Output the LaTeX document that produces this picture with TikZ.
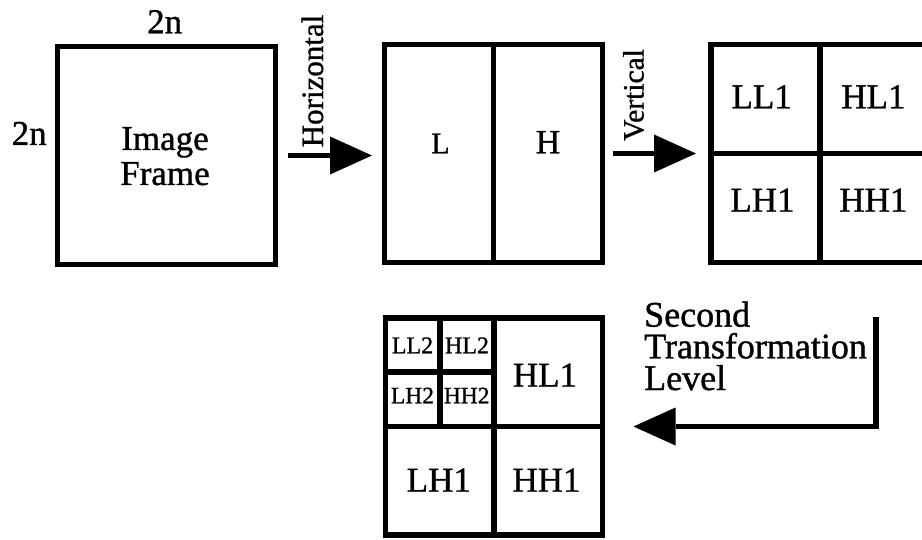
\documentclass[tikz,border=0pt]{standalone}
\usepackage{fontspec}
\setmainfont{Liberation Serif}[FakeBold=1]
\usetikzlibrary{arrows.meta,calc}
\begin{document}
\begin{tikzpicture}[x=1pt,y=-1pt,
  frame/.style={draw, line width=5.5pt, inner sep=0pt, outer sep=0pt,
                minimum width=218pt, minimum height=218pt},
  divider/.style={line width=5.5pt},
  flow/.style={line width=5.5pt, -{Triangle[length=42pt,width=38pt,line width=0pt]}},
  lbl/.style={inner sep=0pt, anchor=base},
  fs/.style={font=\fontsize{#1}{#1}\selectfont}
]
\useasboundingbox (0,0) rectangle (922,540);
\clip (0,0) rectangle (922,540);
\fill[white] (0,0) rectangle (922,540);

% original frame
\node[frame] (img) at (166.5,155.5) {};
\node[lbl, fs=35] (imgA) at (165,150) {Image};
\node[lbl, fs=35] (imgB) at (165,185) {Frame};
\node[lbl, fs=35] (dimW) at (164.7,33.3) {2n};
\node[lbl, fs=35] (dimH) at (29.2,145) {2n};

% after the horizontal pass
\node[frame] (hor) at (493.5,153.5) {};
\draw[divider] (hor.north) -- (hor.south);
\node[lbl, fs=30] (hL) at (440.5,153.3) {L};
\node[lbl, fs=34] (hH) at (548,153.3) {H};

% after the vertical pass
\node[frame] (ver) at (820,153.5) {};
\draw[divider] (ver.north) -- (ver.south);
\draw[divider] (ver.west) -- (ver.east);
\node[lbl, fs=35] (vLL) at (761.7,108.3) {LL1};
\node[lbl, fs=35] (vHL) at (873.4,108.3) {HL1};
\node[lbl, fs=35] (vLH) at (762.5,211.7) {LH1};
\node[lbl, fs=35] (vHH) at (873.4,211.7) {HH1};

% second decomposition level
\node[frame, minimum width=217pt, minimum height=217pt] (low) at (494,426.5) {};
\draw[divider] (low.north) -- (low.south);
\draw[divider] (low.west) -- (low.east);
\draw[divider] ($(low.north west)!0.5!(low.north)$) -- ($(low.west)!0.5!(low.center)$);
\draw[divider] ($(low.north west)!0.5!(low.west)$) -- ($(low.north)!0.5!(low.center)$);
\node[lbl, fs=24] (sLL) at (412.5,353.3) {LL2};
\node[lbl, fs=24] (sHL) at (467,353.3) {HL2};
\node[lbl, fs=23.5] (sLH) at (412.5,403.3) {LH2};
\node[lbl, fs=23.5] (sHH) at (466.7,403.3) {HH2};
\node[lbl, fs=35] (lHL) at (545,386.7) {HL1};
\node[lbl, fs=35] (lLH) at (438.8,491.7) {LH1};
\node[lbl, fs=35] (lHH) at (546.5,491.7) {HH1};

% transform arrows
\draw[flow, shorten <=12pt, shorten >=12.5pt] (img.east) -- (img.east -| hor.west);
\node[lbl, rotate=90, fs=31] (tHor) at (323,81) {Horizontal};
\draw[flow, shorten <=10pt, shorten >=15pt] (hor.east) -- (ver.west);
\node[lbl, rotate=90, fs=29.5] (tVer) at (643.5,95) {Vertical};

\coordinate (lvltop) at (875.8,317);
\draw[flow, shorten >=31pt] (lvltop) |- (low.east);
% caption of the second pass; the node's base is the last line's baseline
\node[inner sep=0pt, anchor=base west, align=left,
      font=\fontsize{36}{31.7}\selectfont] (lvlcap) at (644,390)
  {Second\\Transformation\\Level};
\end{tikzpicture}
\end{document}
